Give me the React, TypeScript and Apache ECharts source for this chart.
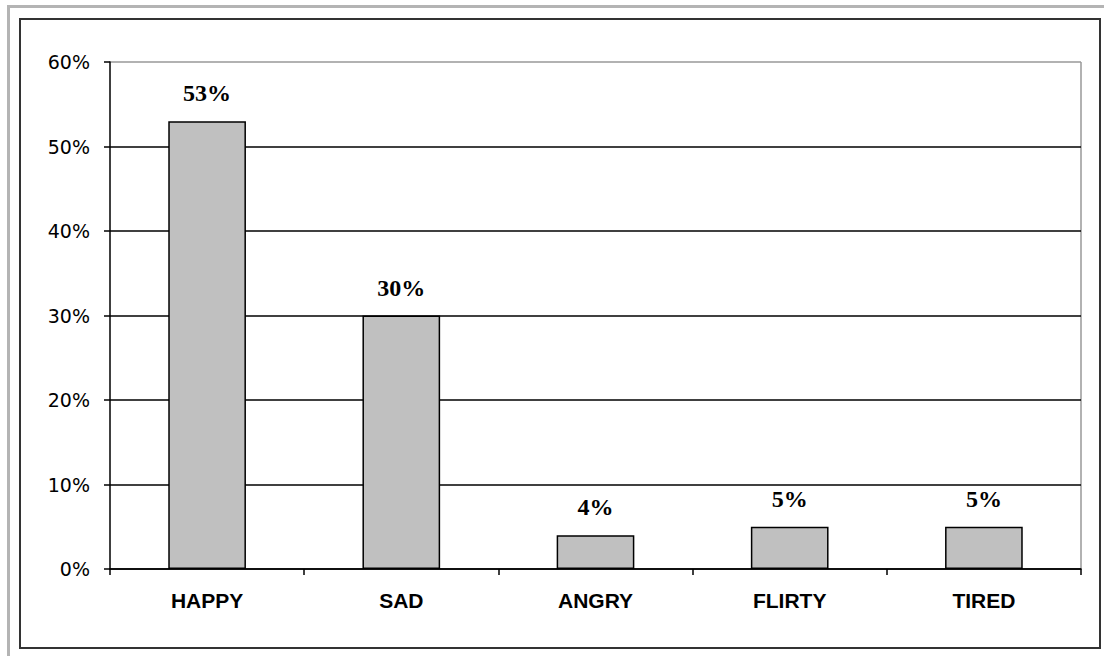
import React, { useEffect, useRef } from "react";
import * as echarts from "echarts";

const categories = ["HAPPY", "SAD", "ANGRY", "FLIRTY", "TIRED"];
const values = [53, 30, 4, 5, 5];
const yMin = 0;
const yMax = 60;
const yStep = 10;

export default function App() {
  const ref = useRef<HTMLDivElement>(null);
  useEffect(() => {
    if (!ref.current) return;
    const chart = echarts.init(ref.current, undefined, { renderer: "svg" });
    chart.setOption({
      animation: false,
      backgroundColor: "#ffffff",
      grid: { left: 110, top: 62, right: 23, bottom: 87, containLabel: false },
      xAxis: {
        type: "category",
        data: categories,
        axisLine: { lineStyle: { color: "#000", width: 1.5 } },
        axisTick: { show: true, length: 6, alignWithLabel: false, lineStyle: { color: "#000", width: 1.5 } },
        axisLabel: {
          color: "#000",
          fontFamily: "Liberation Sans",
          fontWeight: "bold",
          fontSize: 21,
          margin: 21,
        },
        splitLine: { show: false },
      },
      yAxis: {
        type: "value",
        min: yMin,
        max: yMax,
        interval: yStep,
        axisLine: { show: true, lineStyle: { color: "#000", width: 1.5 } },
        axisTick: { show: true, length: 6, lineStyle: { color: "#000", width: 1.5 } },
        axisLabel: {
          color: "#000",
          fontFamily: "DejaVu Sans",
          fontSize: 19,
          margin: 20,
          formatter: "{value}%",
        },
        splitLine: {
          show: true,
          lineStyle: {
            color: ["#000", "#000", "#000", "#000", "#000", "#000", "#999"],
            width: 1.5,
          },
        },
      },
      series: [
        {
          type: "bar",
          data: values,
          barCategoryGap: "60%",
          itemStyle: { color: "#c0c0c0", borderColor: "#000", borderWidth: 1.5 },
          label: {
            show: true,
            position: "top",
            distance: 16,
            formatter: "{c}%",
            color: "#000",
            fontFamily: "Liberation Serif",
            fontWeight: "bold",
            fontSize: 24,
          },
        },
      ],
      graphic: [
        { type: "rect", shape: { x: 7, y: 5, width: 3, height: 651 }, style: { fill: "#b4b4b4" }, silent: true },
        { type: "rect", shape: { x: 7, y: 5, width: 1097, height: 3 }, style: { fill: "#b4b4b4" }, silent: true },
        {
          type: "rect",
          shape: { x: 20, y: 19, width: 1080, height: 629 },
          style: { fill: "none", stroke: "#333", lineWidth: 2 },
          silent: true,
        },
        {
          type: "line",
          shape: { x1: 1081, y1: 62, x2: 1081, y2: 569 },
          style: { stroke: "#999", lineWidth: 1.5 },
          silent: true,
        },
      ],
    });
    return () => chart.dispose();
  }, []);
  return (
    <div
      ref={ref}
      style={{ position: "absolute", left: 0, top: 0, width: 1104, height: 656 }}
    />
  );
}
